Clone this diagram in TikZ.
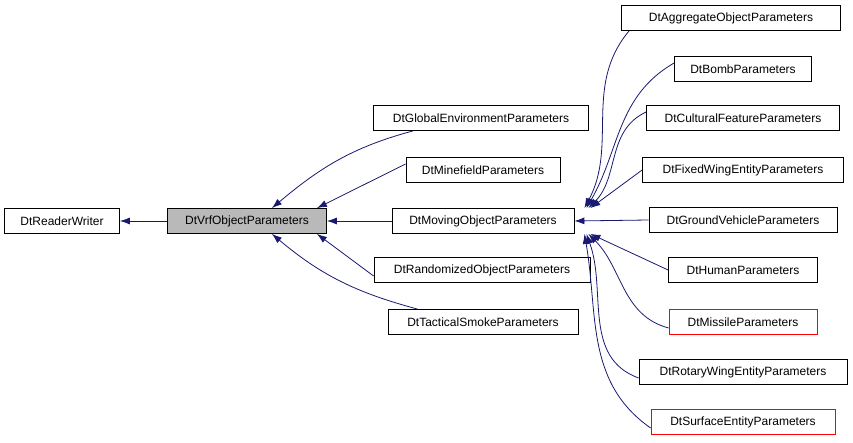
\documentclass[tikz,border=0pt]{standalone}
\usepackage{fontspec}
\setmainfont{Liberation Sans}
\usetikzlibrary{arrows.meta,positioning}

\begin{document}
\begin{tikzpicture}[x=1pt,y=-1pt,font=\fontsize{12}{13}\selectfont]
\definecolor{edgeblue}{HTML}{191970}
\tikzset{cls/.style={draw=black,rectangle,minimum height=25pt,inner xsep=4pt,text=black,line width=0.8pt},
  base/.style={cls,fill=gray!55},
  bad/.style={cls,draw=red},
  inh/.style={draw=edgeblue,{Latex[length=10pt,width=7pt]}-,line width=0.8pt}}
\useasboundingbox (0,0) rectangle (853,443);

\node[cls,minimum width=115pt] (rw) at (62,221) {DtReaderWriter};
\node[base,minimum width=159pt] (vrf) at (247,221) {DtVrfObjectParameters};
\node[cls,minimum width=215pt] (glob) at (481,118) {DtGlobalEnvironmentParameters};
\node[cls,minimum width=154pt] (mine) at (483,170) {DtMinefieldParameters};
\node[cls,minimum width=182pt] (mov) at (483,221) {DtMovingObjectParameters};
\node[cls,minimum width=216pt] (rand) at (482,270) {DtRandomizedObjectParameters};
\node[cls,minimum width=190pt] (smoke) at (483,322) {DtTacticalSmokeParameters};

\node[cls,minimum width=219pt] (aggr) at (731,18) {DtAggregateObjectParameters};
\node[cls,minimum width=137pt] (bomb) at (743,69) {DtBombParameters};
\node[cls,minimum width=193pt] (cult) at (743,118) {DtCulturalFeatureParameters};
\node[cls,minimum width=201pt] (fixed) at (743,170) {DtFixedWingEntityParameters};
\node[cls,minimum width=188pt] (ground) at (743,220) {DtGroundVehicleParameters};
\node[cls,minimum width=149pt] (human) at (743,270) {DtHumanParameters};
\node[bad,minimum width=148pt] (miss) at (743,322) {DtMissileParameters};
\node[cls,minimum width=208pt] (rotary) at (743,372) {DtRotaryWingEntityParameters};
\node[bad,minimum width=184pt] (surf) at (743,422) {DtSurfaceEntityParameters};

% inheritance
\draw[inh] (rw) -- (vrf);
\draw[inh] (vrf) -- (mov);
\draw[inh] ([xshift=-55pt]vrf.north east) to[out=40,in=195] ([xshift=40pt]glob.south west);
\draw[inh] ([xshift=-10pt]vrf.north east) -- ([yshift=6pt]mine.west);
\draw[inh] ([xshift=-10pt]vrf.south east) -- ([yshift=-6pt]rand.west);
\draw[inh] ([xshift=-55pt]vrf.south east) to[out=-40,in=165] ([xshift=30pt]smoke.north west);

\draw[inh] ([xshift=10pt]mov.north east) to[out=62,in=230] ([xshift=8pt]aggr.south west);
\draw[inh] ([xshift=12pt]mov.north east) to[out=60,in=210] ([yshift=6pt]bomb.west);
\draw[inh] ([xshift=14pt]mov.north east) to[out=45,in=205] ([yshift=6pt]cult.west);
\draw[inh] ([xshift=16pt]mov.north east) -- (fixed.west);
\draw[inh] (mov.east) -- (ground.west);
\draw[inh] ([xshift=16pt]mov.south east) -- (human.west);
\draw[inh] ([xshift=14pt]mov.south east) to[out=-45,in=165] ([yshift=-6pt]miss.west);
\draw[inh] ([xshift=12pt]mov.south east) to[out=-70,in=160] ([yshift=-6pt]rotary.west);
\draw[inh] ([xshift=10pt]mov.south east) to[out=-80,in=145] ([yshift=-6pt]surf.west);
\end{tikzpicture}
\end{document}
